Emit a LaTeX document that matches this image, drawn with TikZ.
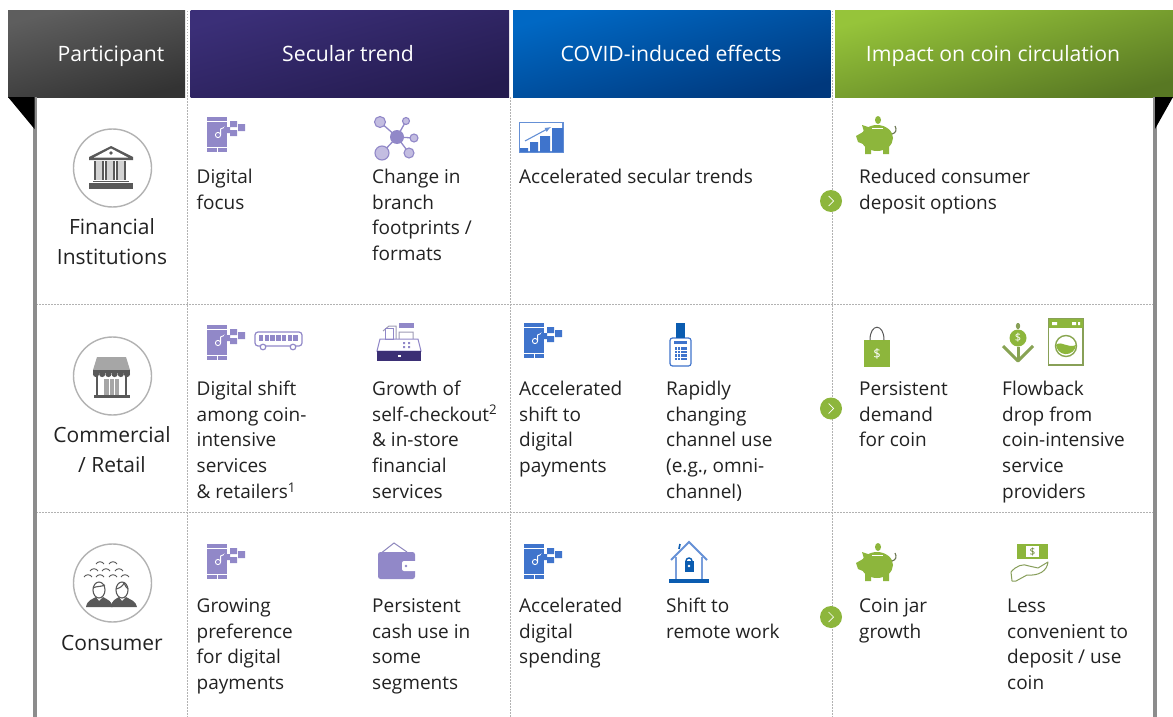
\documentclass[tikz,border=0pt]{standalone}
\usepackage{fontspec}
\setmainfont{Open Sans}
\definecolor{ink}{HTML}{222222}
\definecolor{pur}{HTML}{9188C8}
\definecolor{purd}{HTML}{3B2F75}
\definecolor{blu}{HTML}{3F74CC}
\definecolor{blud}{HTML}{0B5CB0}
\definecolor{grn}{HTML}{8DB63C}
\definecolor{gry}{HTML}{595959}
\definecolor{gryl}{HTML}{A6A6A6}
\definecolor{hda}{HTML}{5E5E5E}
\definecolor{hdb}{HTML}{333333}
\definecolor{hsa}{HTML}{3B2F78}
\definecolor{hsb}{HTML}{241B4F}
\definecolor{hca}{HTML}{0068C4}
\definecolor{hcb}{HTML}{00387C}
\definecolor{hia}{HTML}{96C43A}
\definecolor{hib}{HTML}{587823}
\tikzset{
  x=1pt,y=-1pt,
  head/.style 2 args={top color=#1,bottom color=#2,middle color=#1!50!#2,shading angle=15,draw=none},
  headtxt/.style={text=white,font=\fontsize{21.2}{24}\selectfont,anchor=base,inner sep=0},
  body/.style={anchor=north west,inner sep=0,align=left,text=ink,font=\fontsize{19}{25.8}\selectfont},
  who/.style={anchor=north,inner sep=0,align=center,text=ink,font=\fontsize{21}{30.5}\selectfont},
  griddot/.style={draw=gray!60,line width=1.5pt,dash pattern=on 1.5pt off 1.5pt},
  sidebar/.style={draw=gray!90,line width=3.5pt},
  ring/.style={circle,draw=gray!60,line width=1.4pt,minimum size=78pt,inner sep=0,fill=white},
  marker/.style={circle,fill=grn,minimum size=22pt,inner sep=0},
  phone/.pic={
    \fill[#1] (0,0) rectangle (20,35);
    \draw[white,line width=.8pt] (0,4)--(20,4) (0,30)--(20,30) (10,30)--(10,35);
    \draw[white,line width=.9pt] (11,18) circle (2.6) (13.6,18)--(13.6,12)--(18,10);
    \fill[#1] (17,10) rectangle (23,16) (23,4) rectangle (30,10) (23,13) rectangle (30,19) (31,7) rectangle (38,14);
  },
  network/.pic={
    \draw[pur,line width=1.3pt] (17,20)--(0,5) (17,20)--(26,4) (17,20)--(34,21) (17,20)--(29,36) (17,20)--(2,36);
    \fill[pur] (17,20) circle (7);
    \foreach \a/\b/\r in {0/5/5.5,26/4/3.5,34/21/4,29/36/5,2/36/7}{
      \fill[pur!55] (\a,\b) circle (\r); \draw[pur,line width=1.1pt] (\a,\b) circle (\r);}
  },
  bus/.pic={
    \draw[pur,line width=1.2pt,rounded corners=3pt,fill=white] (0,1) rectangle (47,15);
    \foreach \i in {0,...,6}{\fill[pur] (4+\i*5.7,3.5) rectangle ++(4.4,6);}
    \draw[pur,line width=1.2pt,fill=white] (8,16) circle (2.8) (38,16) circle (2.8);
  },
  register/.pic={
    \draw[gryl!60!pur,line width=1pt] (6,8) -- (12,3) -- (19,3) -- (19,17) (22,9) rectangle (36,17);
    \fill[pur] (22,0) rectangle (37,5);
    \draw[pur,line width=1pt,fill=white] (0,28) -- (3,16) -- (41,16) -- (44,28) -- cycle;
    \draw[pur,line width=1pt] (8,5) rectangle (16,16);
    \fill[pur] (26,19) rectangle (28,21) (31,19) rectangle (33,21) (26,23) rectangle (28,25) (31,23) rectangle (33,25);
    \fill[purd] (0,28) rectangle (44,38);
    \fill[white] (20.5,32) rectangle (23.5,34);
  },
  wallet/.pic={
    \draw[pur!85!gray,line width=1pt] (2,11) -- (16,0) -- (29,9);
    \fill[pur,rounded corners=2.5pt] (0,9) rectangle (37,36);
    \fill[white,rounded corners=2pt] (24,18) rectangle (42,28);
    \fill[pur] (28,23) circle (1.3);
  },
  chart/.pic={
    \draw[blu!80,line width=1.4pt] (.7,.7) rectangle (44,30);
    \fill[blu] (1,26) rectangle (9,30) (11,20) rectangle (19,30) (21,14) rectangle (31,30) (33,6) rectangle (44,30);
    \draw[blu!80,line width=1.1pt,-latex] (6,19) -- (32,5);
  },
  piggy/.pic={
    \fill[grn] (22,4) ellipse (3 and 4);
    \fill[grn] (21,22) ellipse (16 and 13);
    \fill[grn] (0,20) -- (7,16) -- (7,28) -- (2,26) -- cycle;
    \fill[grn] (6,9) -- (15,12) -- (9,19) -- cycle;
    \fill[grn] (9,30) rectangle (15,38) (27,30) rectangle (33,38);
    \draw[gry!70!grn,line width=1.1pt] (36,18) .. controls (40,17) and (41,14) .. (39,10);
    \draw[white,line width=.9pt] (16,12.5) -- (27,12.5);
  },
  terminal/.pic={
    \draw[blu,line width=1.2pt,fill=white,rounded corners=2.5pt] (1,15) rectangle (22,43);
    \fill[blud] (7,0) rectangle (16,15);
    \fill[blu] (5,18) rectangle (18,21);
    \foreach \i in {0,1,2,3}{\foreach \j in {0,1,2,3}{\fill[blu] (5.5+\i*3.3,24+\j*3.6) rectangle ++(2.4,2.6);}}
  },
  house/.pic={
    \draw[blu!80,line width=2pt] (2,19) -- (20,1) -- (38,19);
    \draw[blu!70,line width=1.3pt] (7,16) -- (7,38) (33,16) -- (33,38);
    \draw[blud,line width=1.6pt] (10,8) -- (11,3);
    \fill[blud] (0,38) rectangle (40,42);
    \fill[blud] (15.5,20) rectangle (24.5,31);
    \draw[blud,line width=1.4pt] (17,20) arc[start angle=180,end angle=360,radius=3];
    \fill[white] (20,25) circle (1.3);
  },
  bag/.pic={
    \fill[grn] (0,13) rectangle (26,40);
    \draw[gry,line width=1pt] (6,13) .. controls (6,-4) and (20,-4) .. (20,13);
    \node[text=white,inner sep=0,font=\fontsize{13}{13}\selectfont] at (13,27) {\$};
  },
  coindrop/.pic={
    \draw[grn!60!gray,line width=1.4pt] (17,0) -- (17,6);
    \fill[grn!60!gray] (17,3) ellipse (2.2 and 3);
    \draw[grn!65!gray,line width=3pt,line join=round] (2,23) -- (17,38) -- (32,23);
    \draw[grn!65!gray,line width=3pt] (17,24) -- (17,37);
    \fill[grn] (17,15) circle (8.5);
    \node[text=white,inner sep=0,font=\fontsize{11}{11}\selectfont] at (17,15) {\$};
  },
  washer/.pic={
    \draw[grn!60!gray,line width=1.2pt,fill=white] (.6,.6) rectangle (35,47);
    \fill[grn] (.6,.6) rectangle (35,10);
    \fill[white] (4,4) rectangle (9,7) (24,4) rectangle (28,7) (30,4) rectangle (32,7);
    \draw[grn!70!gray,line width=1.4pt] (18,28) circle (10.5);
    \fill[grn] (8,27) .. controls (13,22) and (20,31) .. (28,27) arc[start angle=5,end angle=175,radius=10] -- cycle;
  },
  moneyhand/.pic={
    \fill[grn] (6,0) rectangle (37,15);
    \fill[white] (15,2) rectangle (28,13);
    \node[text=grn!70!black,inner sep=0,font=\fontsize{10}{10}\selectfont] at (21.5,7.5) {\$};
    \draw[grn!55!gray,line width=1pt,fill=white,line join=round] (1,37) -- (0,28) .. controls (5,22) and (12,19) .. (18,22) -- (27,24) -- (37,18) .. controls (36,27) and (28,32) .. (16,31) -- (5,37) -- cycle;
  },
  bank/.pic={
    \fill[gry] (22,0) -- (44,11) -- (44,14) -- (0,14) -- (0,11) -- cycle;
    \fill[white] (22,2.5) -- (39,11.5) -- (5,11.5) -- cycle;
    \fill[gry] (22,7) circle (1.8);
    \foreach \a in {5,16,27}{\fill[gry] (\a,15) rectangle ++(1.5,19); \fill[gryl!50] (\a+1.5,15) rectangle ++(6.5,19); \fill[gry] (\a+8,15) rectangle ++(1.5,19);}
    \fill[gry] (4,34.5) rectangle (40,36);
    \fill[gry] (0,37) rectangle (44,43);
  },
  shop/.pic={
    \fill[gryl] (4,0) -- (33,0) -- (37,13) -- (0,13) -- cycle;
    \fill[gry] (0,13) rectangle (37,16);
    \foreach \i in {0,...,5}{\fill[gry] (3+\i*6.2,17) circle (3.1);}
    \draw[gry,line width=1.4pt] (4,18) -- (4,39) (33,18) -- (33,39);
    \fill[gryl] (11,22) rectangle (26,38);
    \draw[white,line width=.9pt] (16,22) -- (16,38) (21,22) -- (21,38);
    \fill[gry] (1,38) rectangle (37,41);
  },
  people/.pic={
    \foreach \a/\b in {14/0,27/0,8/7,20/7,33/7,2/13,14/13,27/13,39/13}{
      \draw[gry,line width=.9pt] (\a-4,\b+3) .. controls (\a-2,\b) and (\a+2,\b) .. (\a+4,\b+3);}
    \draw[gry,line width=1.1pt,fill=white] (13,29) ellipse (6 and 8);
    \draw[gry,line width=1.1pt,fill=white] (36,29) ellipse (6 and 8);
    \draw[gry,line width=1.1pt] (7,27) .. controls (10,25) and (15,26) .. (19,24);
    \draw[gry,line width=1.1pt] (30,28) .. controls (34,27) and (37,25) .. (38,22) .. controls (39,25) and (41,27) .. (42,28);
    \fill[gry] (0,46) .. controls (1,39) and (7,38) .. (10,36) -- (13,40) -- (17,36) .. controls (22,39) and (26,40) .. (26.5,46) -- cycle;
    \fill[gry] (25,46) .. controls (25.5,39) and (30,38) .. (33,36) -- (36,40) -- (40,36) .. controls (45,39) and (50,40) .. (51,46) -- cycle;
  }
}
\begin{document}
\begin{tikzpicture}
\useasboundingbox (0,0) rectangle (1173,717);
\fill[white] (0,0) rectangle (1173,717);

% header
\shade[head={hda}{hdb}] (8,11) rectangle (185,97);
\shade[head={hsa}{hsb}] (190.5,11) rectangle (509,97);
\shade[head={hca}{hcb}] (513,11) rectangle (830.5,97);
\shade[head={hia}{hib}] (835,11) rectangle (1173,97);
\node[headtxt] (hp) at (111,61.5) {Participant};
\node[headtxt] (hs) at (348,61.5) {Secular trend};
\node[headtxt] (hc) at (671,61.5) {COVID-induced effects};
\node[headtxt] (hi) at (993,61.5) {Impact on coin circulation};

% grid
\draw[griddot] (187.5,11) -- (187.5,717);
\draw[griddot] (510.5,97) -- (510.5,717);
\draw[griddot] (832.5,11) -- (832.5,717);
\draw[griddot] (36,304.5) -- (1155,304.5);
\draw[griddot] (36,512.5) -- (1155,512.5);
\draw[sidebar] (35,97) -- (35,717);
\draw[sidebar] (1155,97) -- (1155,717);
\fill[black] (8,97) -- (34.5,97) -- (34.5,129) -- cycle;
\fill[black] (1155,97) -- (1173,97) -- (1155,129) -- cycle;

% participants
\node[ring] (c1) at (112.5,168) {};
\node[ring] (c2) at (112.5,376) {};
\node[ring] (c3) at (112.5,583) {};
\pic at (89,146) {bank};
\pic at (93,357) {shop};
\pic at (86,561) {people};
\newcommand\first{\rule{0pt}{16pt}}
\node[who] (w1) at (112,216) {\rule{0pt}{18pt}Financial\\Institutions};
\node[who] (w2) at (112,424) {\rule{0pt}{18pt}Commercial\\/ Retail};
\node[who] (w3) at (112,632) {\rule{0pt}{18pt}Consumer};

% row 1
\pic at (207,117) {phone=pur};
\pic at (380,117) {network};
\pic at (519,122) {chart};
\pic at (856,116) {piggy};
\node[body] (t11) at (196.5,167) {\first Digital\\focus};
\node[body] (t12) at (372,167) {\first Change in\\branch\\footprints /\\formats};
\node[body] (t13) at (519,167) {\first Accelerated secular trends};
\node[body] (t14) at (859,167) {\first Reduced consumer\\deposit options};

% row 2
\pic at (207,325) {phone=pur};
\pic at (255,331) {bus};
\pic at (377,323) {register};
\pic at (524,323) {phone=blu};
\pic at (669,323) {terminal};
\pic at (864,327) {bag};
\pic at (1001,323) {coindrop};
\pic at (1048,318) {washer};
\node[body] (t21) at (196.5,379) {\first Digital shift\\among coin-\\intensive\\services\\\& retailers\textsuperscript{1}};
\node[body] (t22) at (372,379) {\first Growth of\\self-checkout\textsuperscript{2}\\\& in-store\\financial\\services};
\node[body] (t23) at (519,379) {\first Accelerated\\shift to\\digital\\payments};
\node[body] (t24) at (666,379) {\first Rapidly\\changing\\channel use\\(e.g., omni-\\channel)};
\node[body] (t25) at (859,379) {\first Persistent\\demand\\for coin};
\node[body] (t26) at (1002,379) {\first Flowback\\drop from\\coin-intensive\\service\\providers};

% row 3
\pic at (207,544) {phone=pur};
\pic at (378,543) {wallet};
\pic at (524,544) {phone=blu};
\pic at (669,541) {house};
\pic at (856,543) {piggy};
\pic at (1011,544) {moneyhand};
\node[body] (t31) at (196.5,596) {\first Growing\\preference\\for digital\\payments};
\node[body] (t32) at (372,596) {\first Persistent\\cash use in\\some\\segments};
\node[body] (t33) at (519,596) {\first Accelerated\\digital\\spending};
\node[body] (t34) at (666,596) {\first Shift to\\remote work};
\node[body] (t35) at (859,596) {\first Coin jar\\growth};
\node[body] (t36) at (1007,596) {\first Less\\convenient to\\deposit / use\\coin};

% markers
\foreach \n/\yy in {m1/201,m2/408.5,m3/617}{
  \node[marker] (\n) at (831,\yy) {};
  \draw[white,line width=.7pt] (828.5,\yy-5) -- (833.5,\yy) -- (828.5,\yy+5);
}
\end{tikzpicture}
\end{document}
